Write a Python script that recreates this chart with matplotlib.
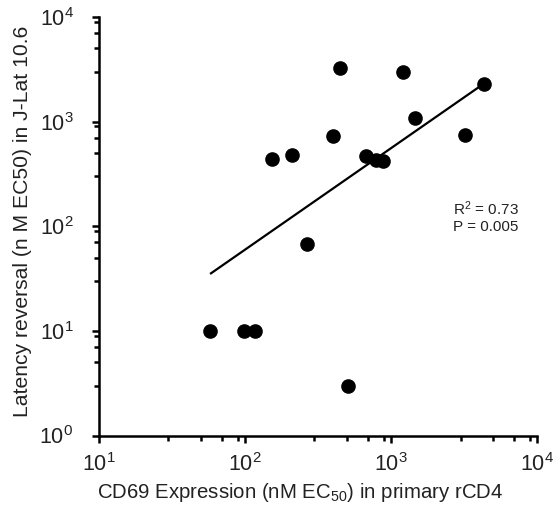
import numpy as np
import matplotlib
matplotlib.use("Agg")
import matplotlib.pyplot as plt
import matplotlib.ticker as mticker

plt.rcParams["font.family"] = ["Liberation Sans", "DejaVu Sans"]
plt.rcParams["mathtext.fontset"] = "custom"
plt.rcParams["mathtext.rm"] = "Liberation Sans"
plt.rcParams["mathtext.it"] = "Liberation Sans:italic"
plt.rcParams["mathtext.bf"] = "Liberation Sans:bold"
plt.rcParams["mathtext.default"] = "regular"

# ── Data ──────────────────────────────────────────────────────────────────
cd69_ec50 = [449, 1202, 4335, 1452, 3236, 400, 155, 211, 671, 790, 877,
             268, 58, 99, 117, 512]
latency_ec50 = [3245, 2995, 2287, 1075, 752, 731, 435, 478, 467, 428, 425,
                67, 10, 10, 10, 3]

fit_x = [58, 4335]
fit_y = [35, 2310]

r2_text = "R$^2$ = 0.73"
p_text = "P = 0.005"

text_col = "#222222"

# ── Figure ────────────────────────────────────────────────────────────────
fig = plt.figure(figsize=(5.54, 5.16), dpi=100)
ax = fig.add_axes([98.5 / 554, 1 - 435.5 / 516, 438.5 / 554, 418.5 / 516])

ax.plot(fit_x, fit_y, color="black", lw=1.6, solid_capstyle="butt")
ax.plot(cd69_ec50, latency_ec50, "o", color="black", ms=9.5, mec="black")

ax.set_xscale("log")
ax.set_yscale("log")
ax.set_xlim(10, 1e4)
ax.set_ylim(1, 1e4)

for side in ("top", "right"):
    ax.spines[side].set_visible(False)
for side in ("left", "bottom"):
    ax.spines[side].set_linewidth(1.8)

fmt = mticker.FuncFormatter(lambda v, _: f"$10^{{{int(round(np.log10(v)))}}}$")
for axis in (ax.xaxis, ax.yaxis):
    axis.set_major_locator(mticker.LogLocator(base=10, numticks=10))
    axis.set_minor_locator(mticker.LogLocator(base=10, subs=(3, 5, 7, 9), numticks=10))
    axis.set_major_formatter(fmt)
    axis.set_minor_formatter(mticker.NullFormatter())

ax.tick_params(which="major", length=5, width=1.8, labelsize=15.5,
               colors="black", labelcolor=text_col)
ax.tick_params(axis="x", which="major", pad=8)
ax.tick_params(axis="y", which="major", pad=13)
ax.tick_params(which="minor", length=3.5, width=1.8, colors="black")

ax.set_xlabel("CD69 Expression (nM EC$_{50}$) in primary rCD4",
              fontsize=14.7, color=text_col)
ax.xaxis.set_label_coords(0.459, -0.108)
ax.set_ylabel("Latency reversal (n M EC50) in J-Lat 10.6",
              fontsize=15.2, color=text_col)
ax.yaxis.set_label_coords(-0.152, 0.511)

ax.text(0.809, 0.522, r2_text + "\n" + p_text, transform=ax.transAxes,
        fontsize=11, color=text_col, va="center", ha="left", linespacing=1.2)

fig.savefig("out.png", dpi=100)
